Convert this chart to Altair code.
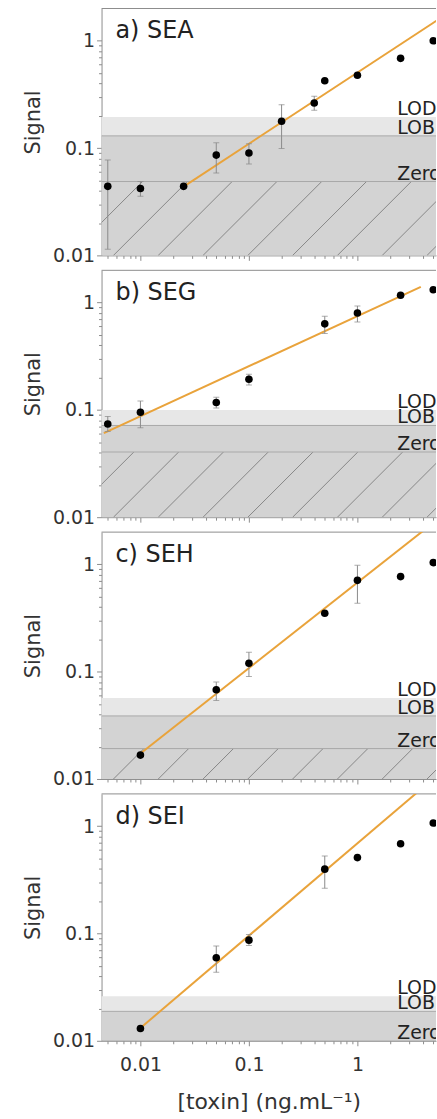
import math
import altair as alt
import pandas as pd

FONT = "DejaVu Sans"
INK = "#333333"
AXIS_GREY = "#8c8c8c"
FIT_ORANGE = "#E9A33B"
BAND_LIGHT = "#e7e7e7"
BAND_MID = "#d3d3d3"
HATCH_GREY = "#737373"

# Plot geometry (pixels) and log-log domains shared by all four panels
W = 336
H = 248
X_DOMAIN = [0.00438, 5.3]
Y_DOMAIN = [0.01, 2.0]

# Tick values: minor ticks at 2..9 per decade, labels only on the decades
MAJOR_TICKS = [0.01, 0.1, 1]
MAJOR_LABELS = ["0.01", "0.1", "1"]
X_TICKS = [0.005, 0.006, 0.007, 0.008, 0.009,
           0.01, 0.02, 0.03, 0.04, 0.05, 0.06, 0.07, 0.08, 0.09,
           0.1, 0.2, 0.3, 0.4, 0.5, 0.6, 0.7, 0.8, 0.9,
           1, 2, 3, 4, 5]
Y_TICKS = [0.01, 0.02, 0.03, 0.04, 0.05, 0.06, 0.07, 0.08, 0.09,
           0.1, 0.2, 0.3, 0.4, 0.5, 0.6, 0.7, 0.8, 0.9, 1]

X_TITLE = "[toxin] (ng.mL\u207b\u00b9)"
Y_TITLE = "Signal"

# ---- a) SEA ----
conc_a = [0.005, 0.01, 0.025, 0.05, 0.1, 0.2, 0.4, 0.5, 1, 2.5, 5]
sig_a = [0.044, 0.042, 0.044, 0.086, 0.090, 0.178, 0.263, 0.424, 0.477, 0.686, 1.0]
lo_a = [0.0114, 0.0355, None, 0.0585, 0.0712, 0.099, 0.225, None, None, None, None]
hi_a = [0.0774, 0.0488, None, 0.112, 0.110, 0.254, 0.305, None, None, None, None]
fit_x_a = [0.025, 6.0]
fit_y_a = [0.0438, 1.66]
levels_a = [0.195, 0.13, 0.0488]  # LOD, LOB, Zero

# ---- b) SEG ----
conc_b = [0.005, 0.01, 0.05, 0.1, 0.5, 1, 2.5, 5]
sig_b = [0.074, 0.095, 0.117, 0.193, 0.634, 0.80, 1.17, 1.32]
lo_b = [0.063, 0.068, 0.104, 0.171, 0.516, 0.66, None, None]
hi_b = [0.087, 0.121, 0.131, 0.215, 0.746, 0.93, None, None]
fit_x_b = [0.0046, 3.84]
fit_y_b = [0.0608, 1.40]
levels_b = [0.100, 0.0716, 0.0405]

# ---- c) SEH ----
conc_c = [0.01, 0.05, 0.1, 0.5, 1, 2.5, 5]
sig_c = [0.0167, 0.0678, 0.120, 0.351, 0.71, 0.77, 1.04]
lo_c = [None, 0.054, 0.090, None, 0.435, None, None]
hi_c = [None, 0.080, 0.152, None, 0.98, None, None]
fit_x_c = [0.01, 5.0]
fit_y_c = [0.0173, 2.44]
levels_c = [0.0568, 0.0387, 0.0192]

# ---- d) SEI ----
conc_d = [0.01, 0.05, 0.1, 0.5, 1, 2.5, 5]
sig_d = [0.013, 0.0595, 0.0867, 0.398, 0.51, 0.687, 1.07]
lo_d = [None, 0.0435, 0.0775, 0.264, None, None, None]
hi_d = [None, 0.0765, 0.098, 0.528, None, None, None]
fit_x_d = [0.01, 5.0]
fit_y_d = [0.01315, 2.77]
levels_d = [0.026, 0.0188, 0.010]

LEVEL_NAMES = ["LOD", "LOB", "Zero"]

# Hatch pattern below the "Zero" level: 45-degree strokes every 45 px
HATCH_STEP_PX = 45
HATCH_OFFSET_PX = 12


def major_test():
    return " || ".join(f"datum.value == {v}" for v in MAJOR_TICKS)


def label_expr():
    expr = "''"
    for v, s in zip(reversed(MAJOR_TICKS), reversed(MAJOR_LABELS)):
        expr = f"datum.value == {v} ? '{s}' : ({expr})"
    return expr


TICK_SIZE = {"condition": {"test": major_test(), "value": 5}, "value": 3}


def hatch_frame(zero):
    dec_x = math.log10(X_DOMAIN[1] / X_DOMAIN[0])
    dec_y = math.log10(Y_DOMAIN[1] / Y_DOMAIN[0])
    px_x = W / dec_x
    px_y = H / dec_y
    rise_px = math.log10(zero / Y_DOMAIN[0]) * px_y
    rows = []
    k = -3
    while True:
        bx = HATCH_OFFSET_PX + k * HATCH_STEP_PX
        if bx > W:
            break
        x0 = X_DOMAIN[0] * 10 ** (bx / px_x)
        x1 = X_DOMAIN[0] * 10 ** ((bx + rise_px) / px_x)
        rows.append({"hx0": x0, "hx1": x1, "hy0": Y_DOMAIN[0], "hy1": zero})
        k += 1
    return pd.DataFrame(rows)


def panel(title, conc, sig, lo, hi, fit_x, fit_y, levels, bottom):
    xs = alt.Scale(type="log", domain=X_DOMAIN, nice=False)
    ys = alt.Scale(type="log", domain=Y_DOMAIN, nice=False)
    x_axis = alt.Axis(
        values=X_TICKS, labels=bottom, labelExpr=label_expr(),
        title=X_TITLE if bottom else None,
        tickSize=TICK_SIZE, labelPadding=10, titlePadding=17,
        titleFontSize=22,
        labelOverlap=False, labelFlush=False,
    )
    y_axis = alt.Axis(
        values=Y_TICKS, labelExpr=label_expr(), title=Y_TITLE,
        tickSize=TICK_SIZE, labelPadding=2, titlePadding=9,
        titleY=H / 2 - 10,
        labelOverlap=False, labelFlush=False,
    )

    def X(field):
        return alt.X(field, type="quantitative", scale=xs, axis=x_axis)

    def Y(field):
        return alt.Y(field, type="quantitative", scale=ys, axis=y_axis)

    lod, lob, zero = levels
    bands = pd.DataFrame({
        "y0": [Y_DOMAIN[0], lob],
        "y1": [lob, lod],
        "fill": [BAND_MID, BAND_LIGHT],
    })
    band_layer = alt.Chart(bands).mark_rect().encode(
        y=Y("y0"), y2="y1", fill=alt.Fill("fill:N", scale=None)
    )

    hatch_layer = alt.Chart(hatch_frame(zero)).mark_rule(
        clip=True, color=HATCH_GREY, strokeWidth=0.8
    ).encode(x=X("hx0"), x2="hx1", y=Y("hy0"), y2="hy1")

    edges = pd.DataFrame({"level": [lob, zero]})
    edge_layer = alt.Chart(edges).mark_rule(
        color="#a8a8a8", strokeWidth=1, clip=True
    ).encode(y=Y("level"))

    names = pd.DataFrame({"name": LEVEL_NAMES, "level": levels})
    name_layer = alt.Chart(names).mark_text(
        align="left", baseline="alphabetic", dy=-2, clip=True,
        font=FONT, fontSize=19, color="#222222",
    ).encode(x=alt.value(297), y=Y("level"), text="name:N")

    fit = pd.DataFrame({"fx": fit_x, "fy": fit_y})
    fit_layer = alt.Chart(fit).mark_line(
        color=FIT_ORANGE, strokeWidth=2, clip=True
    ).encode(x=X("fx"), y=Y("fy"))

    pts = pd.DataFrame({"conc": conc, "sig": sig, "lo": lo, "hi": hi})
    bars = pts.dropna(subset=["lo", "hi"])
    err_layer = alt.Chart(bars).mark_rule(
        color="#8a8a8a", strokeWidth=1, clip=True
    ).encode(x=X("conc"), y=Y("lo"), y2="hi")
    cap_lo = alt.Chart(bars).mark_tick(
        orient="horizontal", size=6, thickness=1, color="#8a8a8a", clip=True
    ).encode(x=X("conc"), y=Y("lo"))
    cap_hi = alt.Chart(bars).mark_tick(
        orient="horizontal", size=6, thickness=1, color="#8a8a8a", clip=True
    ).encode(x=X("conc"), y=Y("hi"))

    point_layer = alt.Chart(pts).mark_circle(
        size=58, color="black", opacity=1, clip=True
    ).encode(x=X("conc"), y=Y("sig"))

    border = alt.Chart(pd.DataFrame({"k": [0]})).mark_rule(
        color=AXIS_GREY, strokeWidth=1
    ).encode(y=alt.value(0))

    caption = alt.Chart(pd.DataFrame({"t": [title]})).mark_text(
        align="left", baseline="alphabetic", font=FONT, fontSize=24,
        color="#222222",
    ).encode(x=alt.value(14), y=alt.value(30), text="t:N")

    return alt.layer(
        band_layer, hatch_layer, edge_layer, name_layer, border,
        fit_layer, err_layer, cap_lo, cap_hi, point_layer, caption,
    ).properties(width=W, height=H)


charts = [
    panel("a) SEA", conc_a, sig_a, lo_a, hi_a, fit_x_a, fit_y_a, levels_a, False),
    panel("b) SEG", conc_b, sig_b, lo_b, hi_b, fit_x_b, fit_y_b, levels_b, False),
    panel("c) SEH", conc_c, sig_c, lo_c, hi_c, fit_x_c, fit_y_c, levels_c, False),
    panel("d) SEI", conc_d, sig_d, lo_d, hi_d, fit_x_d, fit_y_d, levels_d, True),
]

chart = alt.vconcat(*charts, spacing=15, bounds="flush").properties(
    padding={"left": 22, "top": 5, "right": 0, "bottom": 0}
).configure_view(
    stroke=None
).configure_axis(
    grid=False,
    domainColor=AXIS_GREY,
    tickColor=AXIS_GREY,
    domainWidth=1,
    tickWidth=1,
    labelFont=FONT,
    labelFontSize=19,
    labelColor=INK,
    titleFont=FONT,
    titleFontSize=21,
    titleFontWeight="normal",
    titleColor=INK,
)

chart.save("out.html", embed_options={"renderer": "svg", "actions": False})
